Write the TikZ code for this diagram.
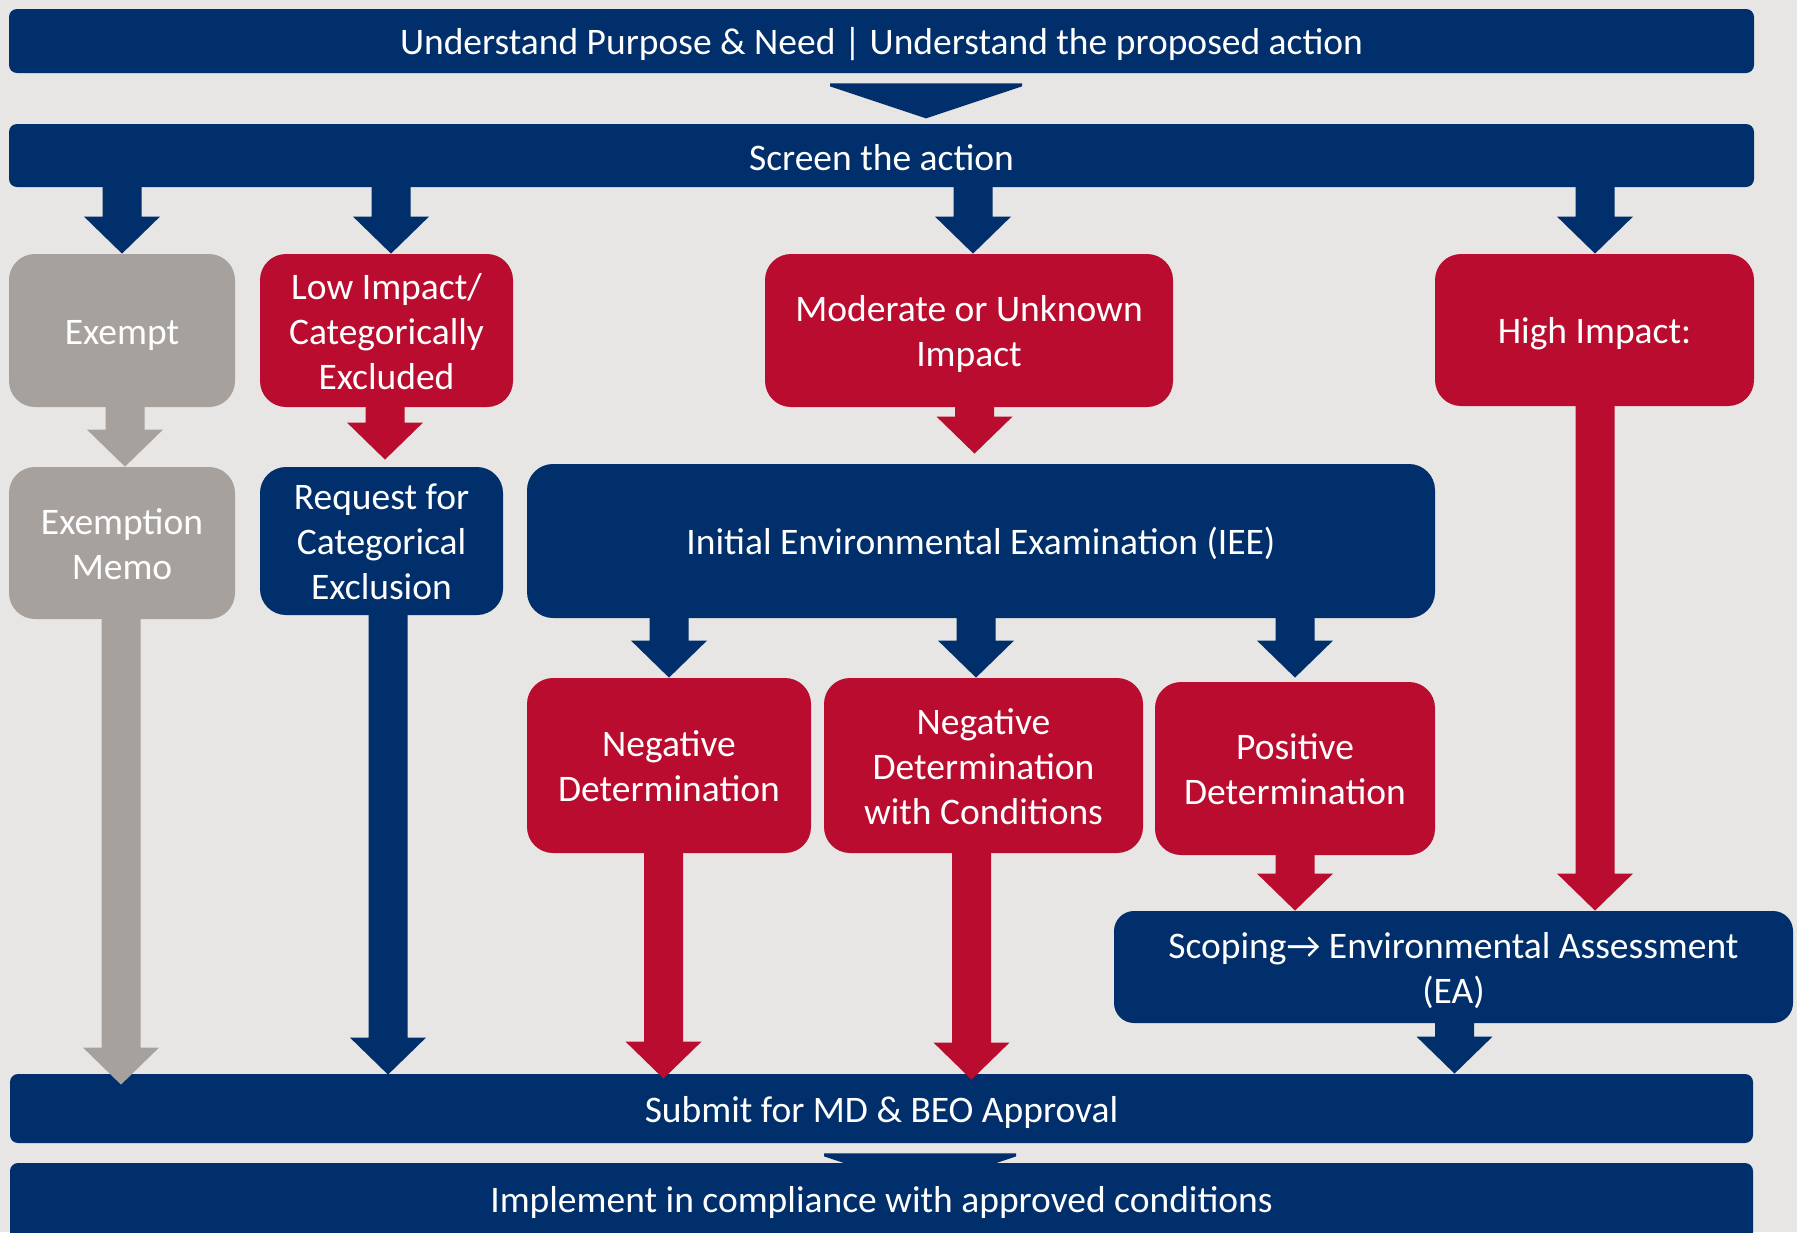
\documentclass[tikz,border=0pt]{standalone}
\usepackage{fontspec}
\setmainfont{Carlito}
\usetikzlibrary{calc}
\definecolor{navy}{HTML}{002F6C}
\definecolor{usred}{HTML}{BA0C2F}
\definecolor{usgray}{HTML}{A7A19E}
\definecolor{bgc}{HTML}{E7E6E4}
\newcommand{\blockarr}[5]{%
  \fill[#1] let \p1=(#2.south), \p2=(#3.north), \p3=(#4,0) in
    (\x3-9.75pt,\y1+1pt) -- (\x3-9.75pt,\y2-#5+18.5pt) -- (\x3-19pt,\y2-#5+18.5pt)
    -- (\x3,\y2-#5) -- (\x3+19pt,\y2-#5+18.5pt) -- (\x3+9.75pt,\y2-#5+18.5pt)
    -- (\x3+9.75pt,\y1+1pt) -- cycle;}
\newcommand{\chevron}[3]{%
  \fill[navy] let \p1=(#1.south), \p2=(#2.north), \p3=(#3,0) in
    (\x3-48pt,\y1-5pt) -- (\x3+48pt,\y1-5pt) -- (\x3+48pt,\y1-6.5pt)
    -- (\x3,\y1-22.5pt) -- (\x3-48pt,\y1-6.5pt) -- cycle;}
\newcommand{\txt}[2][-2.4pt]{\raisebox{#1}[\height][\depth]{\begin{tabular}{@{}c@{}}#2\end{tabular}}}
\begin{document}
\begin{tikzpicture}[x=0.5pt,y=-0.5pt,
  every node/.style={text=white,font=\fontsize{18.75pt}{22.5pt}\selectfont,inner sep=0pt},
  bar/.style={fill=navy,rounded corners=4pt},
  box/.style={rounded corners=13pt},
  nbox/.style={box,fill=navy},
  rbox/.style={box,fill=usred},
  gbox/.style={box,fill=usgray}]
\fill[bgc] (0,0) rectangle (1797,1232);
\useasboundingbox (0,0) rectangle (1797,1232);
% bars
\node[bar,minimum width=872.5pt,minimum height=32pt] (top) at (881.5,41) {\txt{Understand Purpose \& Need | Understand the proposed action}};
\node[bar,minimum width=872.5pt,minimum height=31.5pt] (screen) at (881.5,155.5) {\txt[-2.8pt]{Screen the action}};
\chevron{top}{screen}{926}
% row 1
\node[gbox,minimum width=113pt,minimum height=76.5pt] (exempt) at (122,330.5) {\txt{Exempt}};
\node[rbox,minimum width=126.5pt,minimum height=76.5pt] (low) at (386.5,330.5) {\txt{Low Impact/\\Categorically\\Excluded}};
\node[rbox,minimum width=204pt,minimum height=76.5pt] (mod) at (969,330.5) {\txt{Moderate or Unknown\\Impact}};
\node[rbox,minimum width=159.5pt,minimum height=76pt] (high) at (1594.5,330) {\txt{High Impact:}};
% row 2
\node[gbox,minimum width=113pt,minimum height=76pt] (memo) at (122,543) {\txt{Exemption\\Memo}};
\node[nbox,minimum width=121.5pt,minimum height=74pt] (req) at (381.5,541) {\txt{Request for\\Categorical\\Exclusion}};
\node[nbox,minimum width=454pt,minimum height=77pt] (iee) at (981,541) {\txt{Initial Environmental Examination (IEE)}};
% row 3
\node[rbox,minimum width=142pt,minimum height=87.5pt] (neg) at (669,765.5) {\txt{Negative\\Determination}};
\node[rbox,minimum width=159.5pt,minimum height=87.5pt] (ndwc) at (983.5,765.5) {\txt{Negative\\Determination\\with Conditions}};
\node[rbox,minimum width=140pt,minimum height=86.5pt] (pos) at (1295,768.5) {\txt{Positive\\Determination}};
\node[box,fill=navy,rounded corners=10pt,minimum width=339.5pt,minimum height=56pt] (scop) at (1453.5,967) {\txt{Scoping→ Environmental Assessment\\(EA)}};
% lower bars
\node[bar,minimum width=871.5pt,minimum height=34.5pt] (submit) at (881.5,1108.5) {\txt{Submit for MD \& BEO Approval}};
\chevron{submit}{submit}{920}
\node[bar,minimum width=871.5pt,minimum height=38.5pt] (impl) at (881.5,1201.5) {\txt[-1.1pt]{Implement in compliance with approved conditions}};
% arrows
\blockarr{navy}{screen}{exempt}{122}{0pt}
\blockarr{navy}{screen}{low}{391}{0pt}
\blockarr{navy}{screen}{mod}{973}{0pt}
\blockarr{navy}{screen}{high}{1595}{0pt}
\blockarr{usgray}{exempt}{memo}{125}{0pt}
\blockarr{usred}{low}{req}{385}{-3.5pt}
\blockarr{usred}{mod}{iee}{974.5}{-5pt}
\blockarr{usred}{high}{scop}{1595}{0pt}
\blockarr{navy}{iee}{neg}{669}{0pt}
\blockarr{navy}{iee}{ndwc}{976}{0pt}
\blockarr{navy}{iee}{pos}{1295}{-2pt}
\blockarr{usred}{pos}{scop}{1295}{0pt}
\blockarr{usgray}{memo}{submit}{121}{5.5pt}
\blockarr{navy}{req}{submit}{388}{0.5pt}
\blockarr{usred}{neg}{submit}{663.5}{2.5pt}
\blockarr{usred}{ndwc}{submit}{971.5}{3pt}
\blockarr{navy}{scop}{submit}{1454.5}{0pt}
\end{tikzpicture}
\end{document}
